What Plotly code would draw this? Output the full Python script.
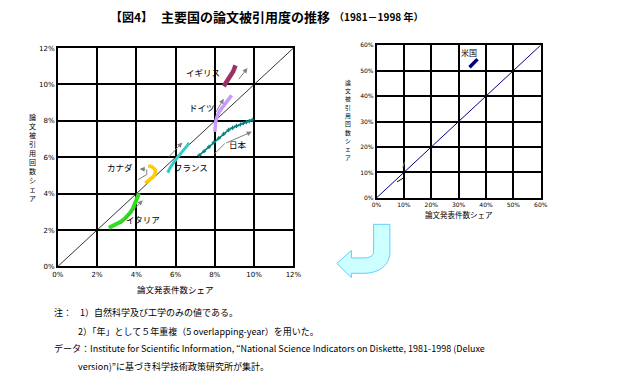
import plotly.graph_objects as go

W, H = 626, 386
def X(px): return px / W
def Y(py): return 1 - py / H

# ---- data (percent shares) ----
uk_x = [8.45, 8.5, 8.55, 8.6, 8.64, 8.68, 8.72, 8.76, 8.8, 8.84, 8.88, 8.93, 8.98, 9.05]
uk_y = [9.9, 9.98, 10.06, 10.14, 10.2, 10.26, 10.32, 10.38, 10.45, 10.53, 10.62, 10.72, 10.85, 11.05]
de_x = [8.0, 8.0, 8.02, 8.03, 8.05, 8.08, 8.15, 8.25, 8.35, 8.45, 8.55, 8.65, 8.75, 8.85]
de_y = [7.4, 7.55, 7.7, 7.85, 8.0, 8.15, 8.35, 8.55, 8.7, 8.85, 9.0, 9.1, 9.25, 9.4]
jp_x = [7.2, 7.45, 7.7, 7.95, 8.2, 8.45, 8.7, 8.9, 9.1, 9.3, 9.45, 9.6, 9.75, 9.9]
jp_y = [6.1, 6.33, 6.57, 6.82, 7.05, 7.28, 7.5, 7.62, 7.72, 7.8, 7.87, 7.93, 7.99, 8.05]
fr_x = [5.6, 5.65, 5.72, 5.8, 5.88, 5.95, 6.02, 6.1, 6.2, 6.3, 6.4, 6.5, 6.6, 6.68]
fr_y = [5.15, 5.28, 5.42, 5.55, 5.65, 5.75, 5.88, 6.0, 6.12, 6.25, 6.4, 6.52, 6.65, 6.8]
ca_x = [4.45, 4.55, 4.65, 4.75, 4.85, 4.92, 4.97, 4.98, 4.95, 4.9, 4.82, 4.75, 4.68, 4.6]
ca_y = [4.58, 4.66, 4.74, 4.82, 4.92, 5.02, 5.12, 5.22, 5.32, 5.4, 5.46, 5.5, 5.52, 5.52]
it_x = [2.6, 2.8, 3.0, 3.2, 3.4, 3.55, 3.7, 3.82, 3.9, 3.97, 4.02, 4.06, 4.1, 4.12]
it_y = [2.12, 2.22, 2.32, 2.45, 2.62, 2.78, 2.98, 3.18, 3.36, 3.52, 3.66, 3.8, 3.92, 4.02]
us_x = [34.0, 34.2, 34.4, 34.6, 34.8, 35.0, 35.2, 35.4, 35.6, 35.8, 36.0, 36.3, 36.6, 36.9]
us_y = [51.3, 51.5, 51.7, 51.9, 52.1, 52.3, 52.5, 52.7, 53.0, 53.3, 53.6, 53.9, 54.2, 54.5]

left_ticks = [0, 2, 4, 6, 8, 10, 12]
left_ticktext = ["0%", "2%", "4%", "6%", "8%", "10%", "12%"]
right_ticks = [0, 10, 20, 30, 40, 50, 60]
right_ticktext = ["0%", "10%", "20%", "30%", "40%", "50%", "60%"]

# labels: (text, x, y)
labels = [("イギリス", 7.39, 10.66), ("ドイツ", 7.34, 8.78), ("日本", 9.18, 6.72),
          ("フランス", 6.8, 5.47), ("カナダ", 3.19, 5.47), ("イタリア", 4.32, 2.63)]
# trend arrows: (tail_x, tail_y, head_x, head_y)
arrows = [(9.16, 10.21, 9.66, 10.9), (8.02, 8.41, 8.45, 9.22), (8.5, 6.75, 9.88, 7.4),
          (5.59, 5.95, 6.34, 6.81), (3.12, 2.24, 4.32, 3.64), (4.53, 5.33, 4.17, 5.36)]
arrow_lines = [([7.97, 8.5], [6.18, 6.75]), ([4.09, 4.53, 4.53], [4.77, 5.05, 5.33])]

fig = go.Figure()
CJK = "Noto Sans CJK JP"

def add(x, y, color, width, xa="x", ya="y", marker=None):
    fig.add_trace(go.Scatter(x=x, y=y, mode="lines+markers" if marker else "lines",
                             line=dict(color=color, width=width),
                             marker=marker, xaxis=xa, yaxis=ya, showlegend=False,
                             hoverinfo="skip"))

# diagonals
add([0, 12], [0, 12], "black", 0.8)
add([0, 60], [0, 60], "#000080", 1, "x2", "y2")

add(uk_x, uk_y, "#993366", 4.5)
add(de_x, de_y, "#CC99FF", 3.5)
add(jp_x, jp_y, "#008080", 1.5, marker=dict(symbol="cross-thin", size=3, line=dict(color="#008080", width=1.2)))
add(fr_x, fr_y, "#33CCCC", 3)
add(ca_x, ca_y, "#FFCC00", 3.5)
add(it_x, it_y, "#33DD22", 4)
add(us_x, us_y, "#000080", 3.5, "x2", "y2")

for lx, ly in arrow_lines:
    add(lx, ly, "#808080", 1)

# small marks near 10% on right chart
add([7.5, 9.8], [6.3, 7.8], "#000000", 1, "x2", "y2")
add([9.6, 10.2], [12.0, 14.0], "#808080", 1, "x2", "y2")

ann = []
for t, x, y in labels:
    ann.append(dict(text=t, x=x, y=y, xref="x", yref="y", showarrow=False,
                    font=dict(family=CJK, size=8.5, color="black")))
for tx, ty, hx, hy in arrows:
    ann.append(dict(x=hx, y=hy, ax=tx, ay=ty, xref="x", yref="y", axref="x", ayref="y",
                    text="", showarrow=True, arrowhead=2, arrowsize=1, arrowwidth=1,
                    arrowcolor="#808080"))
ann.append(dict(text="米国", x=33.6, y=57.1, xref="x2", yref="y2", showarrow=False,
                font=dict(family=CJK, size=8, color="black")))

# titles / notes
def txt(t, px, py, size, anchor="center", bold=False):
    ann.append(dict(text=("<b>%s</b>" % t) if bold else t, x=X(px), y=Y(py), xref="paper", yref="paper",
                    showarrow=False, xanchor=anchor, yanchor="middle",
                    font=dict(family=CJK, size=size, color="black")))

txt("【図4】", 128, 13, 12, bold=True)
txt("主要国の論文被引用度の推移", 157, 13, 13, anchor="left", bold=True)
txt("（1981－1998 年）", 333, 13, 10, anchor="left", bold=True)

txt("論文発表件数シェア", 173.5, 291, 8.5)
txt("論文発表件数シェア", 463, 215, 7.5)
ytitle = "論文被引用回数シェア"
for i, ch in enumerate(ytitle):
    txt(ch, 27.5, 115 + i * 9.2, 7)
    txt(ch, 350, 80 + i * 8.5, 5.8)

txt("注：", 47, 315, 9, anchor="left")
txt("1）自然科学及び工学のみの値である。", 74, 315, 9, anchor="left")
txt("2）「年」として５年重複（5 overlapping-year）を用いた。", 72, 334, 9, anchor="left")
txt("データ：Institute for Scientific Information, “National Science Indicators on Diskette, 1981-1998 (Deluxe",
    47, 352, 9, anchor="left")
txt("version)”に基づき科学技術政策研究所が集計。", 72, 370, 9, anchor="left")

# blue J arrow
def P(px, py): return "%.5f,%.5f" % (X(px), Y(py))
path = ("M " + P(376, 225) + " L " + P(392.7, 225) + " L " + P(392.7, 253) +
        " C " + P(392.7, 268) + " " + P(380, 275) + " " + P(366, 275) +
        " L " + P(353.3, 275) + " L " + P(353.3, 279.3) + " L " + P(338.3, 265) +
        " L " + P(353.3, 251.7) + " L " + P(353.3, 259.3) + " L " + P(366, 259.3) +
        " C " + P(372, 259.3) + " " + P(376, 257) + " " + P(376, 253) + " Z")
shapes = [dict(type="path", path=path, xref="paper", yref="paper",
               fillcolor="#CCFFFF", line=dict(color="#66CCFF", width=1))]

axis_common = dict(showgrid=True, gridcolor="black", gridwidth=1.5, zeroline=False,
                   showline=True, linecolor="black", linewidth=1.5, mirror=True,
                   ticks="", tickfont=dict(family="DejaVu Sans", size=7, color="black"),
                   fixedrange=True)
small_font = dict(family="DejaVu Sans", size=6, color="black")

fig.update_layout(
    width=W, height=H, margin=dict(l=0, r=0, t=0, b=0),
    paper_bgcolor="white", plot_bgcolor="white",
    xaxis=dict(domain=[X(53), X(294)], range=[0, 12], tickvals=left_ticks, ticktext=left_ticktext,
               anchor="y", **axis_common),
    yaxis=dict(domain=[Y(268), Y(45)], range=[0, 12], tickvals=left_ticks, ticktext=left_ticktext,
               anchor="x", **axis_common),
    xaxis2=dict(domain=[X(379), X(547)], range=[0, 60], tickvals=right_ticks, ticktext=right_ticktext,
                anchor="y2", **{**axis_common, "tickfont": small_font}),
    yaxis2=dict(domain=[Y(198), Y(42)], range=[0, 60], tickvals=right_ticks, ticktext=right_ticktext,
                anchor="x2", **{**axis_common, "tickfont": small_font}),
    annotations=ann, shapes=shapes,
)

fig.write_html("out.html", config={"displayModeBar": False},
               post_script="document.body.style.margin='0';document.body.style.overflow='hidden';")
